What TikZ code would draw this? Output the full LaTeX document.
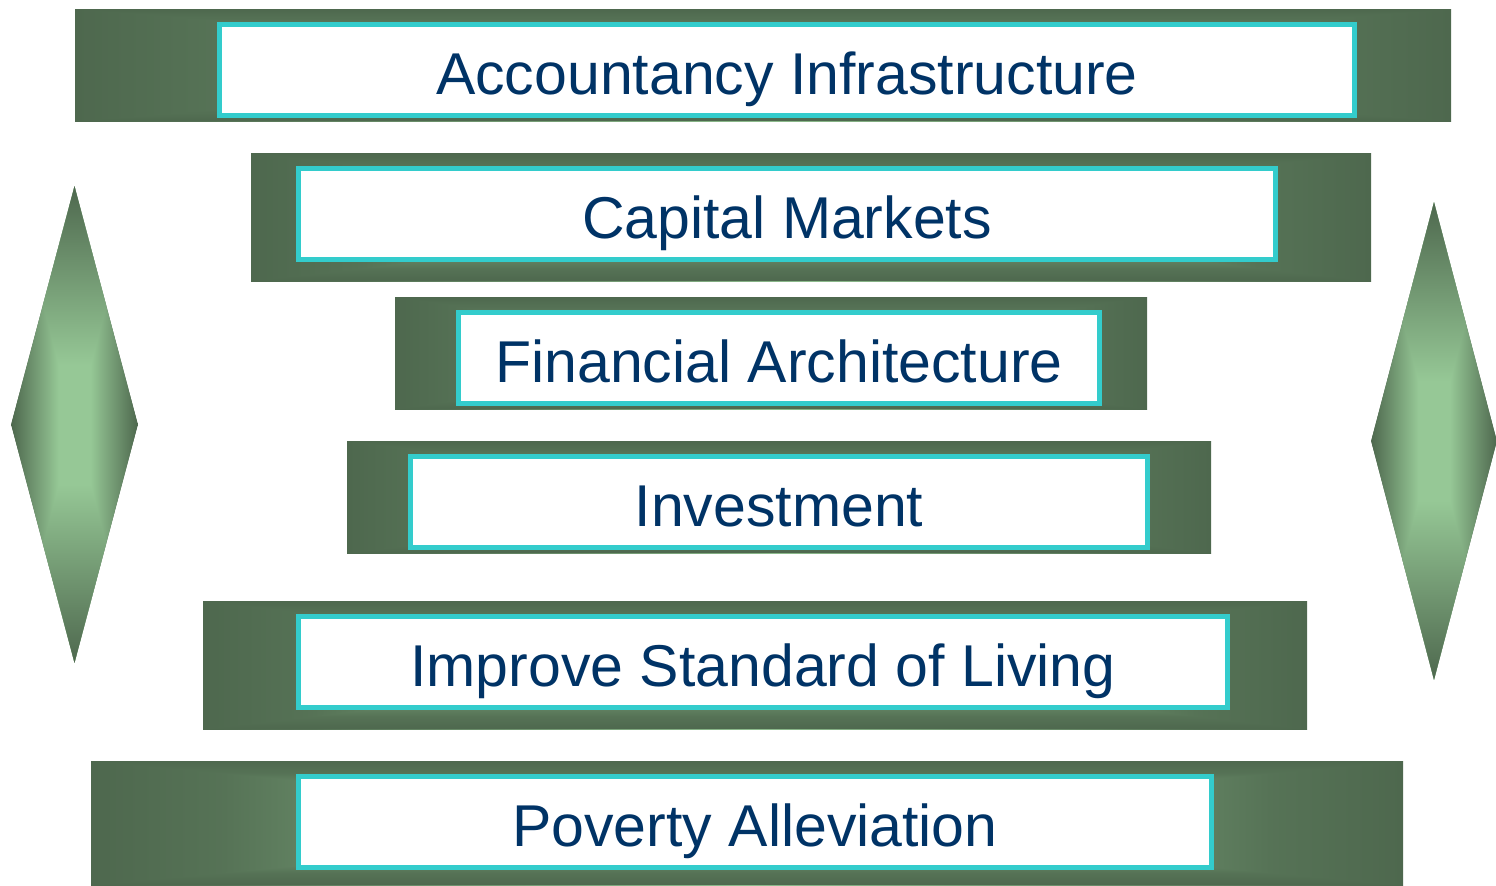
\documentclass[tikz,border=0pt]{standalone}
\usepackage{fontspec}
\setmainfont{Liberation Sans}
\usetikzlibrary{shapes.geometric}

\definecolor{vertfonce}{RGB}{78,104,78}
\definecolor{vertclair}{RGB}{150,200,150}
\colorlet{vertun}{vertclair!11!vertfonce}
\colorlet{vertdeux}{vertclair!26!vertfonce}
\definecolor{turquoise}{RGB}{51,204,204}
\definecolor{bleutexte}{RGB}{0,51,102}

% degrades du bord vers le centre
\pgfdeclarehorizontalshading{fondu}{100bp}{color(0bp)=(vertfonce); color(25bp)=(vertfonce); color(35bp)=(vertun); color(41bp)=(vertdeux); color(75bp)=(vertclair); color(100bp)=(vertclair)}
\pgfdeclarehorizontalshading{fondudouble}{100bp}{color(0bp)=(vertfonce); color(25bp)=(vertfonce); color(30bp)=(vertun); color(33bp)=(vertdeux); color(50bp)=(vertclair); color(67bp)=(vertdeux); color(70bp)=(vertun); color(75bp)=(vertfonce); color(100bp)=(vertfonce)}
\pgfdeclarehorizontalshading{fonducourt}{100bp}{color(0bp)=(vertfonce); color(25bp)=(vertfonce); color(62.5bp)=(vertclair); color(100bp)=(vertclair)}
\pgfdeclarehorizontalshading{fondudoublecourt}{100bp}{color(0bp)=(vertfonce); color(25bp)=(vertfonce); color(43.75bp)=(vertclair); color(56.25bp)=(vertclair); color(75bp)=(vertfonce); color(100bp)=(vertfonce)}

\begin{document}
\begin{tikzpicture}[x=0.5pt, y=-0.5pt]
	\tikzset{degrade/.style 2 args={inner sep=0, fill=vertfonce, path picture={
			\shade[shading=#2] (path picture bounding box.north west) rectangle (path picture bounding box.south east);
			\shade[shading=#1, shading angle=270] (path picture bounding box.north west) -- (path picture bounding box.north east) -- (path picture bounding box.center) -- cycle;
			\shade[shading=#1, shading angle=90] (path picture bounding box.south west) -- (path picture bounding box.south east) -- (path picture bounding box.center) -- cycle;}},
		bande/.style={degrade={fondu}{fondudouble}, rectangle},
		losange/.style={degrade={fonducourt}{fondudoublecourt}, diamond},
		cadre/.style={rectangle, draw=turquoise, line width=2.5pt, fill=white, inner sep=0, text=bleutexte, font=\fontsize{29.5}{35}\selectfont, text height=24.1pt, text depth=0pt}};

	\useasboundingbox (0,0) rectangle (1496,885);

	% bandes vertes
	\node[bande, minimum width=688pt, minimum height=56pt] (b-compta)   at ( 763,  65) {};
	\node[bande, minimum width=560pt, minimum height=64pt] (b-capitaux) at ( 811, 217) {};
	\node[bande, minimum width=376pt, minimum height=56pt] (b-archi)    at ( 771, 353) {};
	\node[bande, minimum width=432pt, minimum height=56pt] (b-invest)   at ( 779, 497) {};
	\node[bande, minimum width=552pt, minimum height=64pt] (b-niveau)   at ( 755, 665) {};
	\node[bande, minimum width=656pt, minimum height=62pt] (b-pauvrete) at ( 747, 823) {};

	% cadres
	\node[cadre, minimum width=567.5pt, minimum height=45.5pt] (compta)   at ( 787,  70) {Accountancy Infrastructure};
	\node[cadre, minimum width=488.5pt, minimum height=45.5pt] (capitaux) at ( 787, 214) {Capital Markets};
	\node[cadre, minimum width=320.5pt, minimum height=45.5pt] (archi)    at ( 779, 358) {Financial Architecture};
	\node[cadre, minimum width=368.5pt, minimum height=45.5pt] (invest)   at ( 779, 502) {Investment};
	\node[cadre, minimum width=464.5pt, minimum height=45.5pt] (niveau)   at ( 763, 662) {Improve Standard of Living};
	\node[cadre, minimum width=456.5pt, minimum height=45.5pt] (pauvrete) at ( 755, 822) {Poverty Alleviation};

	% losanges
	\node[losange, minimum width=63.5pt, minimum height=238.5pt] (losgauche) at (74.5, 424.5) {};
	\node[losange, minimum width=63pt,   minimum height=239pt]   (losdroit)  at (1434,  441) {};

\end{tikzpicture}
\end{document}
